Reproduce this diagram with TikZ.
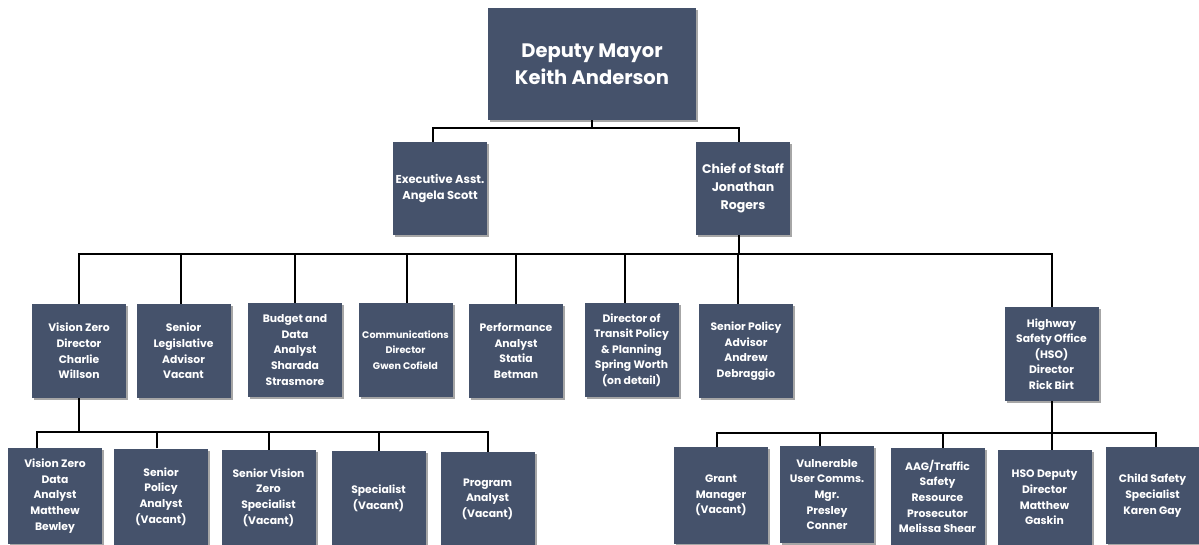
\documentclass[tikz,border=0pt]{standalone}
\usepackage{fontspec}
\setmainfont{Poppins}
\usetikzlibrary{shadows}
\definecolor{boxblue}{RGB}{69,82,107}
\tikzset{
  pbox/.style={fill=boxblue, text=white, align=center, inner sep=1pt,
    minimum width=94pt, minimum height=94pt,
    drop shadow={shadow xshift=2pt, shadow yshift=-2pt, opacity=0.35, fill=black},
    font=\bfseries\fontsize{10.8}{15.6}\selectfont},
  conn/.style={draw=black, line width=2pt}
}
\begin{document}
\begin{tikzpicture}[x=1pt,y=-1pt]
\useasboundingbox (0,0) rectangle (1199,544);
% level 0
\node[pbox, minimum width=208pt, minimum height=112pt, font=\bfseries\fontsize{19.5}{27}\selectfont] (top) at (592,64) {Deputy Mayor\\Keith Anderson};
% level 1
\node[pbox, minimum height=93pt, font=\bfseries\fontsize{11.5}{16}\selectfont] (exec) at (440,188.5) {Executive Asst.\\Angela Scott};
\node[pbox, minimum height=93pt, font=\bfseries\fontsize{12.5}{18}\selectfont] (chief) at (743,188.5) {Chief of Staff\\Jonathan\hspace{8pt}\\Rogers};
% level 2
\node[pbox] (r1) at (79,351) {Vision Zero\\Director\\Charlie\\Willson};
\node[pbox] (r2) at (183.5,351) {Senior\\Legislative\\Advisor\\Vacant};
\node[pbox] (r3) at (295,350) {Budget and\\Data\\Analyst\\Sharada\\Strasmore};
\node[pbox, font=\bfseries\fontsize{9.6}{15.6}\selectfont] (r4) at (405.5,350) {Communications\\Director\\Gwen Cofield};
\node[pbox] (r5) at (516,351) {Performance\\Analyst\\Statia\\Betman};
\node[pbox] (r6) at (631.5,350) {Director of\\Transit Policy\\\& Planning\\Spring Worth\\(on detail)};
\node[pbox] (r7) at (746,351) {Senior Policy\\Advisor\\Andrew\\Debraggio};
\node[pbox] (r8) at (1051.5,354) {Highway\\Safety Office\\(HSO)\\Director\\Rick Birt};
% level 3 left
\node[pbox, minimum height=96pt] (l1) at (55,496) {Vision Zero\\Data\\Analyst\\Matthew\\Bewley};
\node[pbox, minimum height=96pt] (l2) at (161,496.5) {Senior\\Policy\\Analyst\\(Vacant)};
\node[pbox, minimum height=95pt] (l3) at (268.5,497.5) {Senior Vision\\Zero\\Specialist\\(Vacant)};
\node[pbox, minimum height=95pt] (l4) at (378.5,498.5) {Specialist\\(Vacant)};
\node[pbox, minimum height=94pt] (l5) at (487.5,499) {Program\\Analyst\\(Vacant)};
% level 3 right
\node[pbox, minimum height=97pt] (g1) at (721,495.5) {Grant\\Manager\\(Vacant)};
\node[pbox, minimum height=97pt] (g2) at (827,494.5) {Vulnerable\\User Comms.\\Mgr.\\Presley\\Conner};
\node[pbox, minimum height=97pt] (g3) at (937.5,496.5) {AAG/Traffic\\Safety\\Resource\\Prosecutor\\Melissa Shear};
\node[pbox, minimum height=95pt] (g4) at (1044.5,497.5) {HSO Deputy\\Director\\Matthew\\Gaskin};
\node[pbox, minimum height=97pt] (g5) at (1152.5,495.5) {Child Safety\\Specialist\\Karen Gay};
% connectors level 0-1
\coordinate (bus1) at (0,128);
\draw[conn] (top.south) -- (top.south |- bus1);
\draw[conn] ([xshift=-7pt]exec.north) -- ([xshift=-7pt]exec.north |- bus1) -- ([xshift=-4pt]chief.north |- bus1) -- ([xshift=-4pt]chief.north);
% connectors level 1-2
\coordinate (bus2) at (0,254);
\draw[conn] ([xshift=-4pt]chief.south) -- ([xshift=-4pt]chief.south |- bus2);
\draw[conn] (r1.north) -- (r1.north |- bus2) -- (r8.north |- bus2) -- (r8.north);
\draw[conn] ([xshift=-2.5pt]r2.north) -- ([xshift=-2.5pt]r2.north |- bus2);
\draw[conn] (r3.north) -- (r3.north |- bus2);
\draw[conn] ([xshift=1.5pt]r4.north) -- ([xshift=1.5pt]r4.north |- bus2);
\draw[conn] (r5.north) -- (r5.north |- bus2);
\draw[conn] ([xshift=-6.5pt]r6.north) -- ([xshift=-6.5pt]r6.north |- bus2);
\draw[conn] ([xshift=-8pt]r7.north) -- ([xshift=-8pt]r7.north |- bus2);
% connectors level 2-3 left
\coordinate (bus3) at (0,432);
\draw[conn] (r1.south) -- (r1.south |- bus3);
\draw[conn] ([xshift=-18pt]l1.north) -- ([xshift=-18pt]l1.north |- bus3) -- (l5.north |- bus3) -- (l5.north);
\draw[conn] ([xshift=-4pt]l2.north) -- ([xshift=-4pt]l2.north |- bus3);
\draw[conn] (l3.north) -- (l3.north |- bus3);
\draw[conn] (l4.north) -- (l4.north |- bus3);
% connectors level 2-3 right
\coordinate (bus4) at (0,433);
\draw[conn] (r8.south) -- (r8.south |- g4.north);
\draw[conn] ([xshift=-4pt]g1.north) -- ([xshift=-4pt]g1.north |- bus4) -- ([xshift=3.5pt]g5.north |- bus4) -- ([xshift=3.5pt]g5.north);
\draw[conn] ([xshift=-7pt]g2.north) -- ([xshift=-7pt]g2.north |- bus4);
\draw[conn] ([xshift=5.5pt]g3.north) -- ([xshift=5.5pt]g3.north |- bus4);
\end{tikzpicture}
\end{document}
